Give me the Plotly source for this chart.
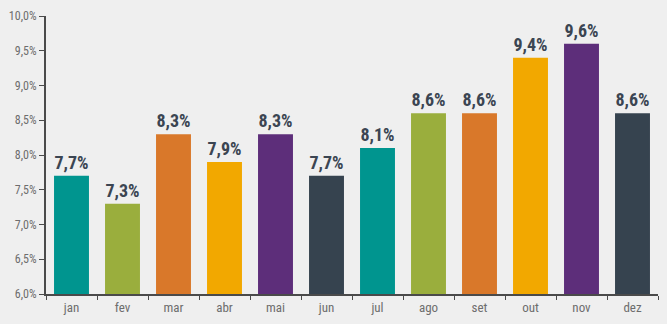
import plotly.graph_objects as go

months = ["jan", "fev", "mar", "abr", "mai", "jun", "jul", "ago", "set", "out", "nov", "dez"]
rates = [7.7, 7.3, 8.3, 7.9, 8.3, 7.7, 8.1, 8.6, 8.6, 9.4, 9.6, 8.6]
palette = ["#00958f", "#9aae3d", "#d9782a", "#f2a800", "#5d2e7a", "#36434f"]
bar_colors = [palette[i % len(palette)] for i in range(len(months))]
labels = [f"{v:.1f}%".replace(".", ",") for v in rates]

FONT = "Liberation Sans Narrow, Roboto Condensed, Roboto, sans-serif"

fig = go.Figure(
    go.Bar(
        x=months,
        y=rates,
        marker=dict(color=bar_colors, line=dict(width=0)),
        text=labels,
        textposition="outside",
        textfont=dict(family=FONT, size=18, color="#3b4552"),
        texttemplate="<b>%{text}</b>",
        cliponaxis=False,
    )
)

fig.update_layout(
    width=667,
    height=324,
    margin=dict(l=44, r=9, t=14, b=29),
    paper_bgcolor="#efefef",
    plot_bgcolor="#efefef",
    bargap=0.315,
    separators=",.",
    showlegend=False,
    font=dict(family=FONT, color="#6d6d6d", size=12),
    uniformtext=dict(minsize=10, mode="show"),
)
fig.update_xaxes(
    showgrid=False,
    showline=True,
    linecolor="#4a4a4a",
    linewidth=2,
    ticks="outside",
    tickson="boundaries",
    ticklen=4,
    tickcolor="#4a4a4a",
    tickfont=dict(family=FONT, size=13, color="#6d6d6d"),
)
fig.update_yaxes(
    range=[6, 10],
    dtick=0.5,
    tickformat=".1f",
    ticksuffix="%",
    showgrid=False,
    zeroline=False,
    showline=True,
    linecolor="#4a4a4a",
    linewidth=2,
    ticks="outside",
    ticklen=5,
    tickcolor="#4a4a4a",
    tickfont=dict(family=FONT, size=12, color="#6d6d6d"),
)

fig.write_html("out.html")
